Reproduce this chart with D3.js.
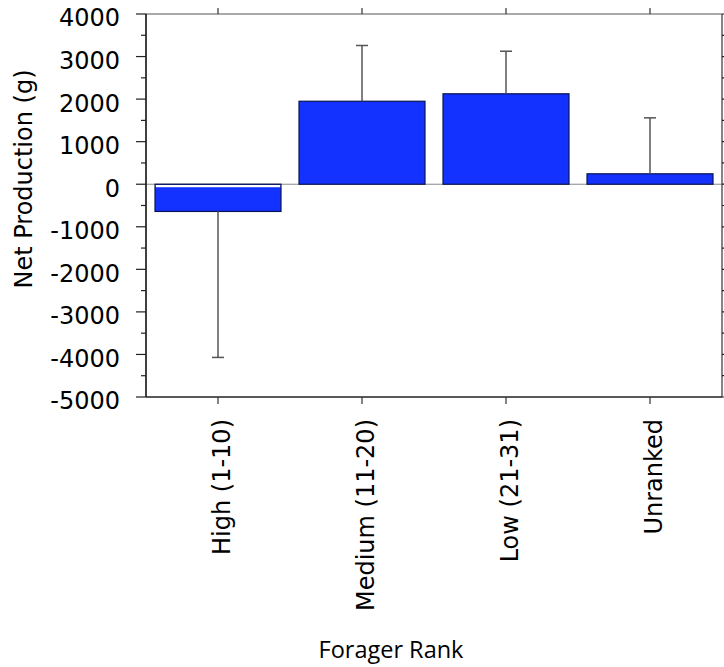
<!DOCTYPE html>
<html>
<head>
<meta charset="utf-8">
<script src="https://cdn.jsdelivr.net/npm/d3@7"></script>
<style>
  body { margin: 0; background: #fff; }
  text { font-family: "DejaVu Sans", sans-serif; fill: #000; }
</style>
</head>
<body>
<svg class="chart-svg"></svg>
<script>
// data
const categories = ["High (1-10)", "Medium (11-20)", "Low (21-31)", "Unranked"];
const means = [-640, 1950, 2125, 245];
const errors = [3430, 1310, 1000, 1315];
const yTicks = [-5000, -4000, -3000, -2000, -1000, 0, 1000, 2000, 3000, 4000];
const yMinor = d3.range(-5000, 4001, 500);

let size = {width: 724, height: 667};
let margin = {top: 14, right: 2, bottom: 270, left: 146};
const innerWidth = size.width - margin.left - margin.right;
const innerHeight = size.height - margin.top - margin.bottom;

let svg = d3.select(".chart-svg")
    .attr("width", size.width)
    .attr("height", size.height);

let g = svg.append("g")
    .attr("transform", `translate(${margin.left},${margin.top})`);

// scales
let x = d3.scaleBand()
    .domain(categories)
    .range([0, innerWidth])
    .paddingInner(0.125)
    .paddingOuter(0.0625);

let y = d3.scaleLinear()
    .domain([-5000, 4000])
    .range([innerHeight, 0]);

// zero line
g.append("line")
    .attr("x1", 0).attr("x2", innerWidth)
    .attr("y1", y(0)).attr("y2", y(0))
    .attr("stroke", "#888").attr("stroke-width", 1);

// bars
let data = categories.map((c, i) => ({cat: c, mean: means[i], err: errors[i]}));

g.selectAll("rect.bar")
    .data(data)
    .join("rect")
    .attr("class", "bar")
    .attr("x", d => x(d.cat))
    .attr("width", x.bandwidth())
    .attr("y", d => y(Math.max(0, d.mean)))
    .attr("height", d => Math.abs(y(d.mean) - y(0)))
    .attr("fill", "#1432ff")
    .attr("stroke", "#0a1450")
    .attr("stroke-width", 1.2);

// little white strip under the zero edge of negative bars
g.selectAll("rect.strip")
    .data(data.filter(d => d.mean < 0))
    .join("rect")
    .attr("class", "strip")
    .attr("x", d => x(d.cat) + 0.8)
    .attr("width", x.bandwidth() - 1.6)
    .attr("y", y(0) + 0.8)
    .attr("height", 2.2)
    .attr("fill", "#fff");

// error bars (one-sided, away from zero)
let errG = g.append("g").attr("stroke", "#555").attr("stroke-width", 1.5);
data.forEach(d => {
    let cx = x(d.cat) + x.bandwidth() / 2;
    let end = d.mean >= 0 ? d.mean + d.err : d.mean - d.err;
    errG.append("line")
        .attr("x1", cx).attr("x2", cx)
        .attr("y1", y(d.mean)).attr("y2", y(end));
    errG.append("line")
        .attr("x1", cx - 6).attr("x2", cx + 6)
        .attr("y1", y(end)).attr("y2", y(end));
});

// frame
g.append("line").attr("x1", 0).attr("x2", innerWidth).attr("y1", 0).attr("y2", 0)
    .attr("stroke", "#555").attr("stroke-width", 1.2);
g.append("line").attr("x1", innerWidth).attr("x2", innerWidth).attr("y1", 0).attr("y2", innerHeight)
    .attr("stroke", "#333").attr("stroke-width", 1.2);

// left axis
let left = g.append("g");
left.append("line").attr("x1", 0).attr("x2", 0).attr("y1", 0).attr("y2", innerHeight)
    .attr("stroke", "#000").attr("stroke-width", 1.5);
left.selectAll("line.tick")
    .data(yMinor)
    .join("line")
    .attr("class", "tick")
    .attr("x1", d => yTicks.includes(d) ? -10 : -5).attr("x2", 0)
    .attr("y1", d => y(d)).attr("y2", d => y(d))
    .attr("stroke", "#222").attr("stroke-width", 1.2);
left.selectAll("text")
    .data(yTicks)
    .join("text")
    .attr("x", -26)
    .attr("y", d => y(d) + 4)
    .attr("dy", "0.35em")
    .attr("text-anchor", "end")
    .attr("font-size", 24)
    .text(d => d);

// right ticks
g.append("g").selectAll("line")
    .data(yMinor)
    .join("line")
    .attr("x1", innerWidth).attr("x2", innerWidth + 5)
    .attr("y1", d => y(d)).attr("y2", d => y(d))
    .attr("stroke", "#222").attr("stroke-width", 1.2);

// bottom axis
let bottom = g.append("g").attr("transform", `translate(0,${innerHeight})`);
bottom.append("line").attr("x1", 0).attr("x2", innerWidth).attr("y1", 0).attr("y2", 0)
    .attr("stroke", "#222").attr("stroke-width", 1.5);
bottom.selectAll("line.tick")
    .data(categories)
    .join("line")
    .attr("class", "tick")
    .attr("x1", d => x(d) + x.bandwidth() / 2).attr("x2", d => x(d) + x.bandwidth() / 2)
    .attr("y1", 0).attr("y2", 7)
    .attr("stroke", "#333").attr("stroke-width", 1.2);
bottom.selectAll("text")
    .data(categories)
    .join("text")
    .attr("transform", d => `translate(${x(d) + x.bandwidth() / 2 + 4},22) rotate(-90)`)
    .attr("dy", "0.35em")
    .attr("text-anchor", "end")
    .attr("font-size", 24)
    .text(d => d);

// top ticks
g.append("g").selectAll("line")
    .data(categories)
    .join("line")
    .attr("x1", d => x(d) + x.bandwidth() / 2).attr("x2", d => x(d) + x.bandwidth() / 2)
    .attr("y1", 0).attr("y2", -6)
    .attr("stroke", "#333").attr("stroke-width", 1.2);

// axis titles
svg.append("text")
    .attr("transform", "translate(32,179) rotate(-90)")
    .attr("text-anchor", "middle")
    .attr("font-size", 24)
    .text("Net Production (g)");

svg.append("text")
    .attr("x", 391)
    .attr("y", 658)
    .attr("text-anchor", "middle")
    .style("font-family", "'Open Sans', sans-serif")
    .attr("font-size", 23.5)
    .text("Forager Rank");
</script>
</body>
</html>
